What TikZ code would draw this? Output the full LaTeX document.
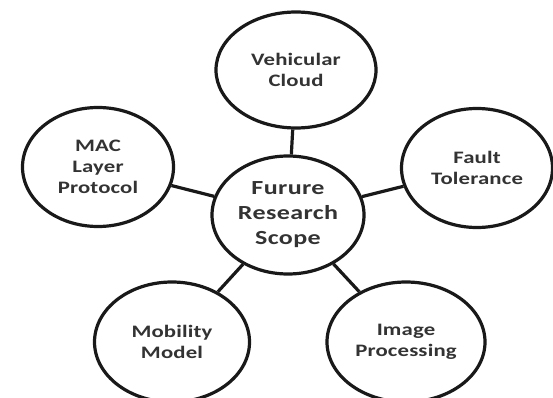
\documentclass[tikz,border=0pt]{standalone}
\usepackage{fontspec}
\setmainfont[FakeStretch=1.3]{Carlito}
\newfontfamily\topicfont[FakeStretch=1.3,LetterSpace=1]{Carlito}
\newfontfamily\hubfont[FakeStretch=1.3,LetterSpace=2]{Carlito}
\usetikzlibrary{shapes.geometric}
\begin{document}
\begin{tikzpicture}[x=1pt,y=-1pt,
  topic/.style={ellipse, draw=black!90, line width=3.2pt, inner sep=0pt,
    minimum width=154pt, minimum height=118pt, align=center,
    font=\topicfont\bfseries\fontsize{17.5}{21}\selectfont, text=black!80},
  hub/.style={topic, minimum width=152pt, minimum height=118pt,
    font=\hubfont\bfseries\fontsize{20}{25}\selectfont},
  link/.style={draw=black!90, line width=3.2pt}]
\fill[white] (0,0) rectangle (553,398);
\useasboundingbox (0,0) rectangle (553,398);

% hub and the five research topics
\node[hub]   (hub)   at (288,215) {Furure\\Research\\Scope};
\node[topic, minimum width=160pt, minimum height=116pt] (cloud) at (296,70) {Vehicular\\Cloud};
\node[topic, minimum width=151pt, minimum height=119pt] (mac)   at (98,167)  {MAC\\Layer\\Protocol};
\node[topic, minimum width=151pt, minimum height=119pt] (fault) at (477,168) {Fault\\Tolerance};
\node[topic, minimum width=155pt, minimum height=120pt] (mob)   at (172,342) {Mobility\\Model};
\node[topic, minimum width=158pt, minimum height=120pt] (img)   at (406,342) {Image\\Processing};

% spokes
\draw[link] (hub) -- (cloud);
\draw[link] (hub) -- (mac);
\draw[link] (hub) -- (fault);
\draw[link] (hub) -- (mob);
\draw[link] (hub) -- (img);
\end{tikzpicture}
\end{document}
